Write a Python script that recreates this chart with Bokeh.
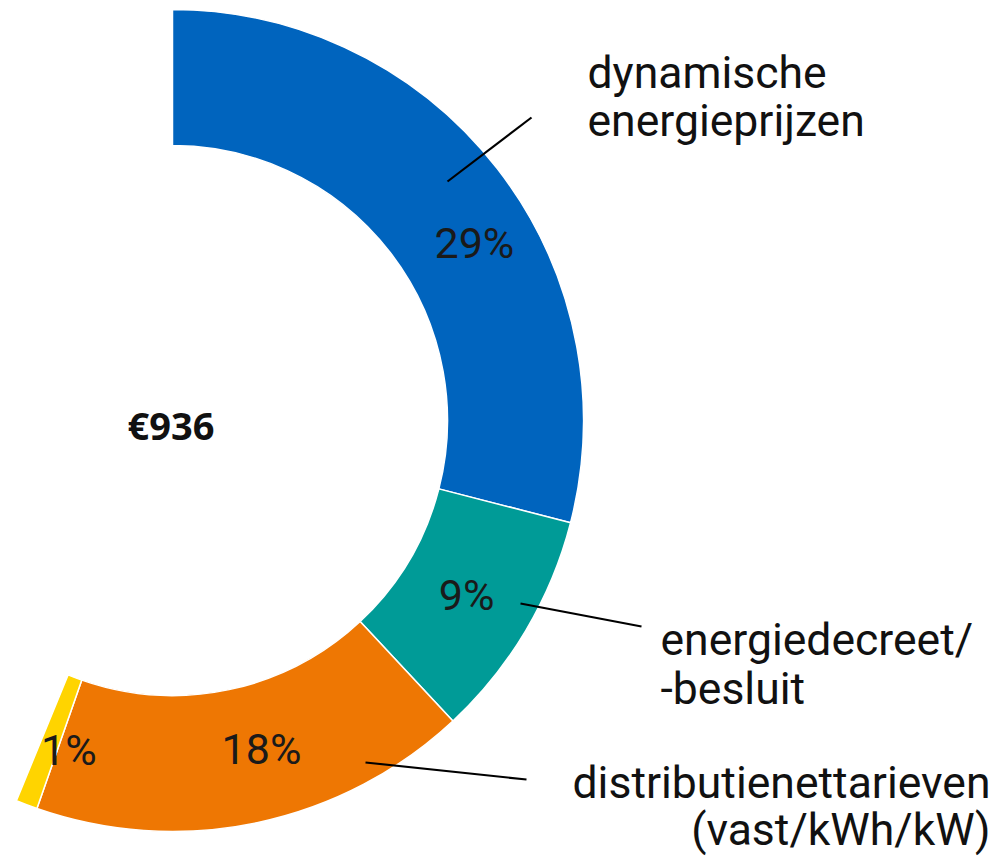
import math
from bokeh.plotting import figure
from bokeh.models import Range1d, ColumnDataSource
from bokeh.core.properties import value
from bokeh.embed import file_html
from bokeh.resources import INLINE

# ---- data ----
segments = ["dynamische energieprijzen", "energiedecreet/-besluit",
            "distributienettarieven (vast/kWh/kW)", "overig"]
shares = [29.0, 9.05, 17.3, 0.85]          # percent of full circle
pct_labels = ["29%", "9%", "18%", "1%"]
colors = ["#0064BE", "#009B97", "#EE7703", "#FFD400"]
total_label = "€936"

# ---- layout (page pixels) ----
W, H = 1000, 856
def X(px): return px
def Y(py): return H - py

cx, cy = X(172), Y(420)
r_in, r_out = 275, 411

p = figure(width=W, height=H, output_backend="svg", toolbar_location=None,
           x_range=Range1d(0, W), y_range=Range1d(0, H), min_border=0,
           match_aspect=False)
p.axis.visible = False
p.grid.visible = False
p.outline_line_color = None
p.background_fill_color = "white"
p.border_fill_color = "white"

starts, ends, mids = [], [], []
cum = 0.0
for s in shares:
    a0 = 90 - cum * 3.6
    cum += s
    a1 = 90 - cum * 3.6
    starts.append(math.radians(a0)); ends.append(math.radians(a1))
    mids.append((a0 + a1) / 2)

src = ColumnDataSource(dict(start=starts, end=ends, color=colors))
p.annular_wedge(x=cx, y=cy, inner_radius=r_in, outer_radius=r_out,
                start_angle="start", end_angle="end", direction="clock",
                fill_color="color", line_color="white", line_width=1.5, source=src)

# percentage labels inside the ring
nudges = [-7.4, 0.0, 3.3, 3.3]
r_lab = [350, 342, 340, 345]
lx, ly = [], []
for m, n, rr in zip(mids, nudges, r_lab):
    a = math.radians(m + n)
    lx.append(cx + rr * math.cos(a)); ly.append(cy + rr * math.sin(a))
p.text(x=lx, y=ly, text=pct_labels, text_font=value("Roboto"),
       text_font_size="43px", text_align="center", text_baseline="middle",
       text_color="#1a1a1a")

# centre total
p.text(x=[X(127)], y=[Y(424)], text=[total_label], text_font=value("Open Sans"),
       text_font_style="bold", text_font_size="38px", text_align="left",
       text_baseline="alphabetic", text_color="#111111")

# leader lines
leaders = [((447, 181), (531, 117)), ((520, 603), (641, 626)), ((365, 762), (526, 779))]
for (a, b) in leaders:
    p.line(x=[X(a[0]), X(b[0])], y=[Y(a[1]), Y(b[1])], line_color="black", line_width=2.2)

# outside labels
outs = [
    ("dynamische", 587, 72, "left"),
    ("energieprijzen", 587, 120, "left"),
    ("energiedecreet/", 660, 639, "left"),
    ("-besluit", 660, 688, "left"),
    ("distributienettarieven", 990, 782, "right"),
    ("(vast/kWh/kW)", 990, 829, "right"),
]
for t, x0, y0, al in outs:
    p.text(x=[X(x0)], y=[Y(y0)], text=[t], text_font=value("Roboto"),
           text_font_size="44.5px", text_align=al, text_baseline="alphabetic",
           text_color="#111111")

open("out.html", "w").write(file_html(p, INLINE))
